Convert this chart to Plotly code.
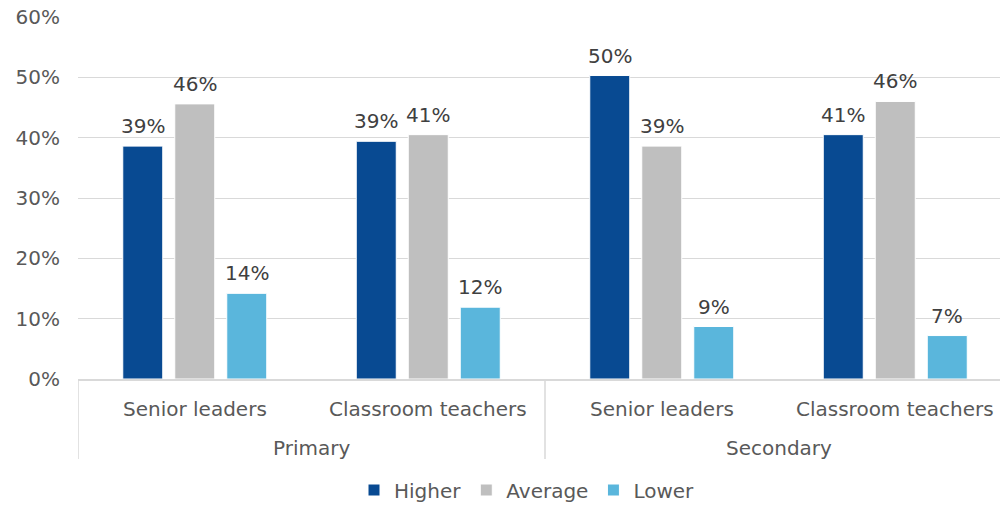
import math
import plotly.graph_objects as go

phases = ["Primary", "Primary", "Secondary", "Secondary"]
roles = ["Senior leaders", "Classroom teachers", "Senior leaders", "Classroom teachers"]
higher = [38.6, 39.4, 50.3, 40.5]
average = [45.6, 40.5, 38.6, 46.0]
lower = [14.2, 11.9, 8.7, 7.2]
series_names = ["Higher", "Average", "Lower"]
colors = ["#084A92", "#BFBFBF", "#5AB6DC"]
y_ticks = [0, 10, 20, 30, 40, 50, 60]

font_family = "DejaVu Sans, sans-serif"
FS = 20
PLOT_H = 362.0
CAT_PX = 233.5          # pixel width of one category in the reference
slot = 52 / CAT_PX      # spacing between bars in a group
bw = 40 / CAT_PX        # bar width
pos = list(range(len(roles)))


def pct(v):
    return f"{math.floor(v + 0.5)}%"


fig = go.Figure()
series = [higher, average, lower]
for k, (name, vals, col) in enumerate(zip(series_names, series, colors)):
    off = -1.5 * slot + k * slot + (slot - bw) / 2
    fig.add_trace(go.Bar(
        name=name,
        x=pos,
        y=vals,
        width=bw,
        offset=off,
        marker=dict(color=col, line=dict(color="white", width=1)),
        hoverinfo="skip",
    ))
    for i, v in zip(pos, vals):
        fig.add_annotation(x=i + off + bw / 2, y=v, xref="x", yref="y",
                           text=pct(v), showarrow=False, yanchor="bottom",
                           yshift=6,
                           font=dict(size=FS, color="#404040", family=font_family))

# inner category labels
for i, r in zip(pos, roles):
    fig.add_annotation(x=i, y=-30 / PLOT_H, xref="x", yref="paper", text=r,
                       showarrow=False, yanchor="middle",
                       font=dict(size=FS, color="#595959", family=font_family))

# outer group labels and dividers
groups = []
for i, p in zip(pos, phases):
    if not groups or groups[-1][0] != p:
        groups.append([p, i, i])
    else:
        groups[-1][2] = i
for p, a, b in groups:
    fig.add_annotation(x=(a + b) / 2, y=-69 / PLOT_H, xref="x", yref="paper", text=p,
                       showarrow=False, yanchor="middle",
                       font=dict(size=FS, color="#595959", family=font_family))
div_x = [groups[0][1] - 0.5] + [g[2] + 0.5 for g in groups]
for dx in div_x:
    fig.add_shape(type="line", xref="x", yref="paper", x0=dx, x1=dx, y0=0,
                  y1=-80 / PLOT_H, line=dict(color="#D9D9D9", width=1.5))

fig.update_layout(
    width=1000, height=506,
    margin=dict(l=78, r=0, t=17, b=127),
    plot_bgcolor="white",
    paper_bgcolor="white",
    font=dict(family=font_family, size=FS, color="#595959"),
    showlegend=True,
    legend=dict(orientation="h", x=0.487, xanchor="center",
                yref="container", y=1 - 490 / 506, yanchor="middle",
                font=dict(size=FS, color="#595959"), itemwidth=30,
                tracegroupgap=0),
)
fig.update_yaxes(
    range=[0, 60], tickvals=y_ticks, ticktext=[f"{v}%" for v in y_ticks],
    showgrid=True, gridcolor="#D9D9D9", gridwidth=1,
    zeroline=False, showline=False,
    tickfont=dict(size=FS, color="#595959"),
    ticks="", ticklabelstandoff=17, automargin=False,
)
# the reference's plot area runs 12px past the right edge of the image
fig.update_xaxes(
    range=[-0.5, len(roles) - 0.5 - 12 / CAT_PX],
    showline=True, linecolor="#D9D9D9", linewidth=1.5,
    showticklabels=False, showgrid=False, zeroline=False,
    ticks="", automargin=False,
)

fig.write_html("out.html", config={"displayModeBar": False},
               post_script="document.body.style.margin='0';")
